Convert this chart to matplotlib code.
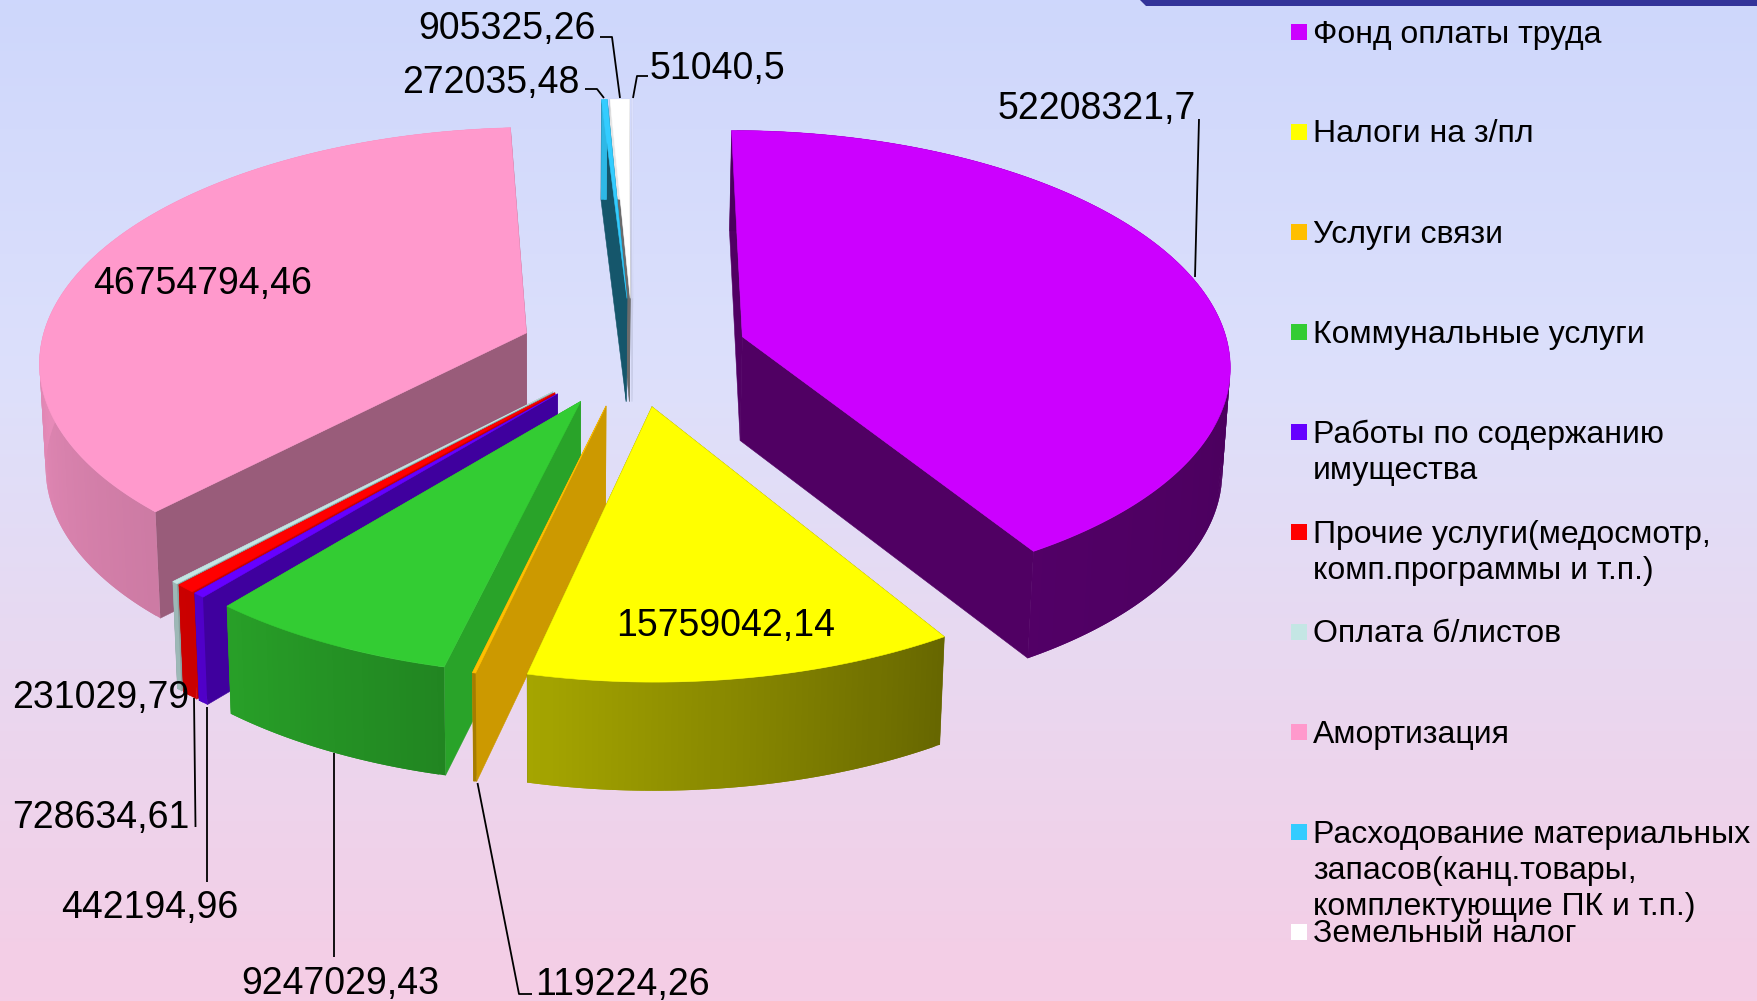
import numpy as np
import matplotlib
matplotlib.use('Agg')
import matplotlib.pyplot as plt
from matplotlib.patches import Polygon, Rectangle
from matplotlib.colors import LinearSegmentedColormap, to_rgb

# ---------- data ----------
names = ['Фонд оплаты труда', 'Налоги на з/пл', 'Услуги связи', 'Коммунальные услуги',
         'Работы по содержанию\nимущества', 'Прочие услуги(медосмотр,\nкомп.программы и т.п.)',
         'Оплата б/листов', 'Амортизация',
         'Расходование материальных\nзапасов(канц.товары,\nкомплектующие ПК и т.п.)',
         'Земельный налог']
values = [52208321.7, 15759042.14, 119224.26, 9247029.43, 442194.96, 728634.61,
          231029.79, 46754794.46, 272035.48, 905325.26, 51040.5]
colors = ['#CC00FF', '#FFFF00', '#FFBF00', '#33CC33', '#6600FF', '#FF0000',
          '#C4E6E4', '#FF99CC', '#33CCFF', '#FFFFFF', '#DDE2FF']
wall_shade = [.39, .40, .80, .80, .62, .80, .70, .60, .42, .42, .90]
draw_order = [10, 9, 8, 0, 7, 6, 5, 4, 3, 2, 1]

# ---------- pie projection ----------
CX, CY, A, B, H, P, EXPL = 633, 351.5, 487, 232, 104, .11, .235
VX, CONV = 560, .012

fig = plt.figure(figsize=(17.58, 10.01), dpi=100)
ax = fig.add_axes([0, 0, 1, 1])
ax.set_xlim(0, 1758)
ax.set_ylim(1001, 0)
ax.axis('off')

bg = LinearSegmentedColormap.from_list('bg', [(0, '#CED7FC'), (.38, '#DDE0FB'), (.64, '#E8D9F1'), (1, '#F5CDE5')])
ax.imshow(np.linspace(0, 1, 256)[:, None], cmap=bg, extent=(0, 1758, 1001, 0), aspect='auto', zorder=0)
ax.set_xlim(0, 1758)
ax.set_ylim(1001, 0)
ax.add_patch(Polygon([(1140, 0), (1758, 0), (1758, 5.5), (1146, 5.5)], fc='#333399', ec='none', zorder=1))


def proj(x, y, z):
    w = 1 + P * y
    sx = CX + A * x / w
    sy = CY - B * y / w + H * z / w ** .3
    return VX + (sx - VX) * (1 - CONV * z), sy


def arc_shade(deg):
    return np.interp(deg, [90, 148, 193, 223, 270, 360], [.36, .40, .65, .80, .90, .9])


def scale(col, s):
    return tuple(np.clip(np.array(to_rgb(col)) * s, 0, 1))


total = sum(values)
ends = np.cumsum(values) / total * 360
starts = np.concatenate([[0], ends[:-1]])
z = 10
for i in draw_order:
    a0, a1 = starts[i], ends[i]
    mid = np.radians((a0 + a1) / 2)
    ox, oy = EXPL * np.sin(mid), EXPL * np.cos(mid)
    deg = np.linspace(a0, a1, max(3, int((a1 - a0) * 1.5)))
    rad = np.radians(deg)
    ax_x, ax_y = ox + np.sin(rad), oy + np.cos(rad)
    top = [proj(x, y, 0) for x, y in zip(ax_x, ax_y)]
    bot = [proj(x, y, 1) for x, y in zip(ax_x, ax_y)]
    ap_t, ap_b = proj(ox, oy, 0), proj(ox, oy, 1)
    wc = scale(colors[i], wall_shade[i])
    ax.add_patch(Polygon([ap_t, top[0], bot[0], ap_b], fc=wc, ec=wc, lw=.4, zorder=z))
    ax.add_patch(Polygon([ap_t, top[-1], bot[-1], ap_b], fc=wc, ec=wc, lw=.4, zorder=z))
    n = len(deg)
    for k in range(n - 1):
        c = scale(colors[i], arc_shade((deg[k] + deg[k + 1]) / 2))
        e = min(k + 2, n - 1)
        ax.add_patch(Polygon([top[k], top[e], bot[e], bot[k]], fc=c, ec='none', zorder=z + 1))
    ax.add_patch(Polygon([ap_t] + top, fc=colors[i], ec=colors[i], lw=.4, zorder=z + 2))
    z += 3

# ---------- data labels ----------
FONT = 'Liberation Sans'
label_xy = [(1097, 109), (726, 626), (622, 985), (340, 984), (150, 908), (101, 818),
            (101, 698), (203, 284), (491, 83), (507, 29), (717, 69)]
for v, (x, y) in zip(values, label_xy):
    ax.text(x, y, str(v).replace('.', ','), ha='center', va='center', fontsize=27,
            family=FONT, color='black', zorder=100)

leaders = [[(1199, 119), (1195, 277)], [(477.5, 783), (519, 994), (532, 994)], [(334, 753), (334, 957)],
           [(207, 707), (207, 882)], [(194, 698), (195.5, 827)],
           [(600, 37), (612, 37), (620, 98)], [(585, 89), (597, 89), (604, 98)], [(648, 76), (637, 76), (633, 98)]]
for pts in leaders:
    xs, ys = zip(*pts)
    ax.plot(xs, ys, color='black', lw=1.3, zorder=99, solid_capstyle='butt')

# ---------- legend ----------
for i, name in enumerate(names):
    yc = 32 + i * 100
    ax.add_patch(Rectangle((1291, yc - 8), 16, 16, fc=colors[i], ec='none', zorder=100))
    ax.text(1313, yc - 12.5, name, ha='left', va='top', fontsize=23, family=FONT,
            linespacing=1.28, color='black', zorder=101)

fig.savefig('out.png', dpi=100)
